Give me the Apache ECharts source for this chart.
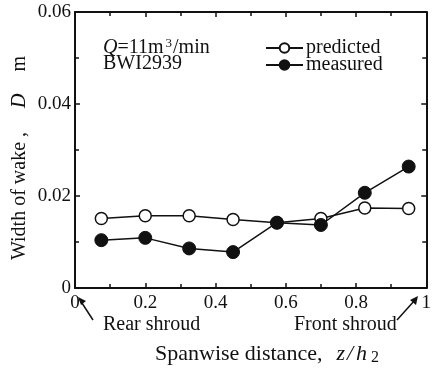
<!DOCTYPE html>
<html>
<head>
<meta charset="utf-8">
<script src="https://cdn.jsdelivr.net/npm/echarts@6/dist/echarts.min.js"></script>
<style>
  html, body { margin: 0; padding: 0; background: #fff; }
  #chart { width: 434px; height: 374px; }
</style>
</head>
<body>
<div id="chart"></div>
<script>
// Spanwise positions z/h2 of the measuring stations
const spanPositions = [0.075, 0.2, 0.325, 0.45, 0.575, 0.7, 0.825, 0.95];
// Wake width D (m)
const predictedWidth = [0.0151, 0.0157, 0.0157, 0.0149, 0.0142, 0.0151, 0.0174, 0.0173];
const measuredWidth  = [0.0104, 0.0109, 0.0086, 0.0078, 0.0142, 0.0137, 0.0207, 0.0264];
const xTicks = [0, 0.2, 0.4, 0.6, 0.8, 1];
const yTicks = [0, 0.02, 0.04, 0.06];

const FONT = '"Liberation Serif", "Times New Roman", serif';
const INK = '#111';

const chart = echarts.init(document.getElementById('chart'), null, { renderer: 'canvas' });

function pairs(xs, ys) { return xs.map((x, i) => [x, ys[i]]); }

function fmtX(v) {
  const hit = xTicks.find(t => Math.abs(t - v) < 1e-9);
  return hit === undefined ? '' : (hit === 0 ? '0' : hit === 1 ? '1' : String(hit));
}
function fmtY(v) {
  const hit = yTicks.find(t => Math.abs(t - v) < 1e-9);
  return hit === undefined ? '' : (hit === 0 ? '0' : hit.toFixed(2));
}

const axisCommon = {
  type: 'value',
  axisLine: { show: true, onZero: false, lineStyle: { color: INK, width: 2 } },
  axisTick: { show: true, inside: true, length: 5, lineStyle: { color: INK, width: 1.5 } },
  minorTick: { show: true, splitNumber: 2, length: 4, lineStyle: { color: INK, width: 1.5 } },
  splitLine: { show: false },
  minorSplitLine: { show: false }
};

const option = {
  animation: false,
  backgroundColor: '#fff',
  grid: { left: 75, right: 6, top: 12, bottom: 86, containLabel: false },
  xAxis: [
    Object.assign({}, axisCommon, {
      min: 0, max: 1, interval: 0.2, position: 'bottom',
      axisLabel: { color: INK, fontFamily: FONT, fontSize: 19, margin: 6, formatter: fmtX }
    }),
    Object.assign({}, axisCommon, {
      min: 0, max: 1, interval: 0.2, position: 'top',
      axisLabel: { show: false }
    })
  ],
  yAxis: [
    Object.assign({}, axisCommon, {
      min: 0, max: 0.06, interval: 0.02, position: 'left',
      axisLabel: { color: INK, fontFamily: FONT, fontSize: 19, margin: 4, formatter: fmtY }
    }),
    Object.assign({}, axisCommon, {
      min: 0, max: 0.06, interval: 0.02, position: 'right',
      axisLabel: { show: false }
    })
  ],
  legend: {
    orient: 'vertical',
    left: 265,
    top: 38,
    padding: 0,
    itemWidth: 37,
    itemHeight: 12,
    itemGap: -3,
    data: ['predicted', 'measured'],
    textStyle: { fontFamily: FONT, fontSize: 20, lineHeight: 20, color: INK, padding: [0, 0, 0, -2] }
  },
  series: [
    {
      name: 'predicted',
      type: 'line',
      data: pairs(spanPositions, predictedWidth),
      symbol: 'circle',
      symbolSize: 12,
      lineStyle: { color: INK, width: 1.5 },
      itemStyle: { color: '#fff', borderColor: INK, borderWidth: 1.5 },
      z: 3
    },
    {
      name: 'measured',
      type: 'line',
      data: pairs(spanPositions, measuredWidth),
      symbol: 'circle',
      symbolSize: 13,
      lineStyle: { color: INK, width: 1.5 },
      itemStyle: { color: INK, borderColor: INK, borderWidth: 1 },
      z: 4
    }
  ],
  graphic: [
    // Vertical axis title
    {
      type: 'text', x: 20, y: 158, rotation: Math.PI / 2,
      style: {
        text: '{n|Width of wake ,}{i|D}{m|m}',
        align: 'center', verticalAlign: 'middle',
        rich: {
          n: { fontFamily: FONT, fontSize: 20, fill: INK },
          i: { fontFamily: FONT, fontSize: 20, fontStyle: 'italic', fill: INK, padding: [0, 0, 0, 24] },
          m: { fontFamily: FONT, fontSize: 20, fill: INK, padding: [0, 0, 0, 22] }
        }
      }
    },
    // Flow rate and impeller caption
    {
      type: 'text', left: 103, top: 37,
      style: {
        text: '{i|Q}{n|=11m}{s|3}{n|/min}',
        rich: {
          i: { fontFamily: FONT, fontSize: 20, fontStyle: 'italic', fill: INK },
          n: { fontFamily: FONT, fontSize: 20, fill: INK },
          s: { fontFamily: FONT, fontSize: 13, fill: INK, verticalAlign: 'top', padding: [0, 1, 9, 2] }
        }
      }
    },
    {
      type: 'text', left: 103, top: 54,
      style: { text: 'BWI2939', fontFamily: FONT, fontSize: 20, fill: INK }
    },
    // Shroud annotations with pointer arrows
    {
      type: 'text', left: 103, top: 315,
      style: { text: 'Rear shroud', fontFamily: FONT, fontSize: 20, fill: INK }
    },
    {
      type: 'line', shape: { x1: 93, y1: 320, x2: 80, y2: 300 },
      style: { stroke: INK, lineWidth: 1.5 }
    },
    {
      type: 'polygon', shape: { points: [[78, 297], [86, 301], [81, 305]] },
      style: { fill: INK }
    },
    {
      type: 'text', left: 294, top: 315,
      style: { text: 'Front shroud', fontFamily: FONT, fontSize: 20, fill: INK }
    },
    {
      type: 'line', shape: { x1: 397, y1: 320, x2: 415, y2: 300 },
      style: { stroke: INK, lineWidth: 1.5 }
    },
    {
      type: 'polygon', shape: { points: [[418, 296], [416, 305], [410, 300]] },
      style: { fill: INK }
    },
    // Horizontal axis title
    {
      type: 'text', left: 155, top: 343,
      style: {
        text: '{n|Spanwise distance,}{z|z}{i|/}{h|h}{s|2}',
        rich: {
          n: { fontFamily: FONT, fontSize: 22, fill: INK },
          z: { fontFamily: FONT, fontSize: 22, fontStyle: 'italic', fill: INK, padding: [0, 1, 0, 14] },
          i: { fontFamily: FONT, fontSize: 22, fontStyle: 'italic', fill: INK, padding: [0, 3, 0, 1] },
          h: { fontFamily: FONT, fontSize: 22, fontStyle: 'italic', fill: INK, padding: [0, 3, 0, 0] },
          s: { fontFamily: FONT, fontSize: 16, fill: INK, verticalAlign: 'bottom', padding: [8, 0, 0, 1] }
        }
      }
    }
  ]
};

chart.setOption(option);
</script>
</body>
</html>
